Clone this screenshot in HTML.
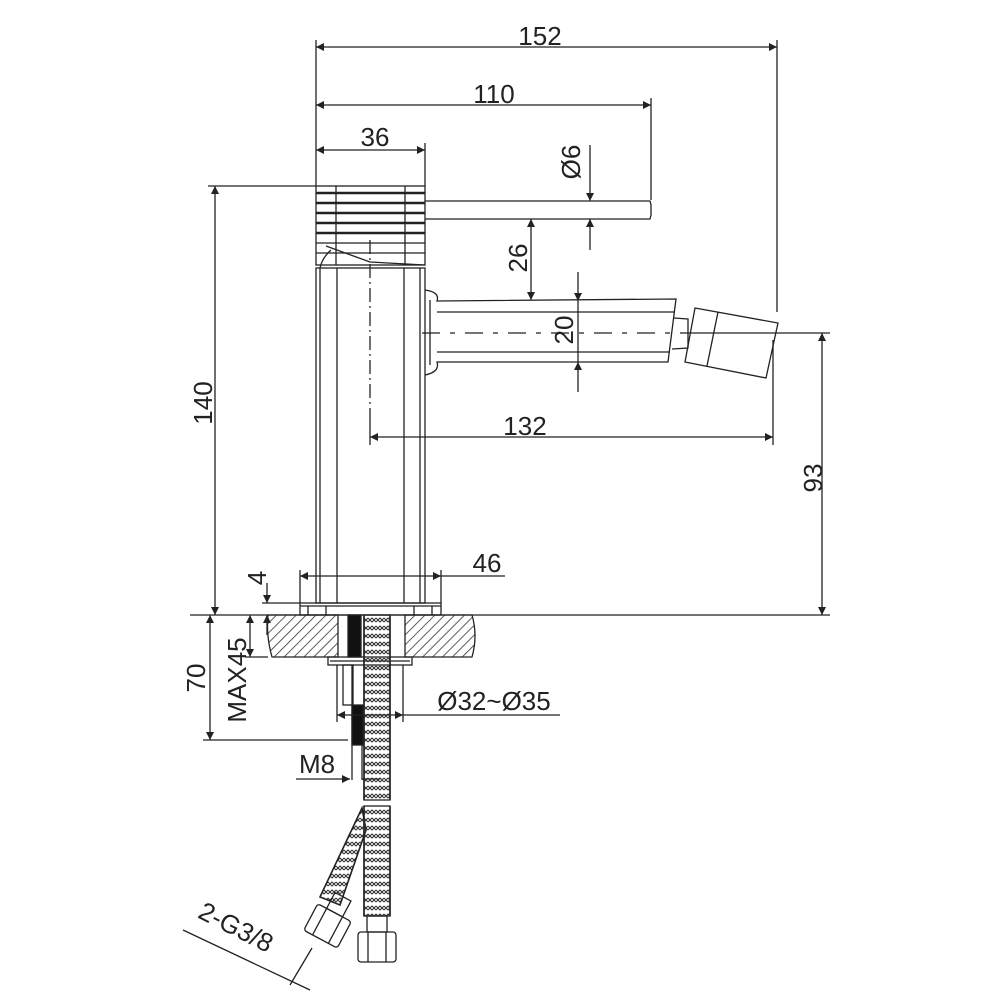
<!DOCTYPE html>
<html><head><meta charset="utf-8"><style>html,body{margin:0;padding:0;background:#fff}svg{display:block}</style></head>
<body>
<svg width="1000" height="1000" viewBox="0 0 1000 1000" xmlns="http://www.w3.org/2000/svg" font-family="Liberation Sans, sans-serif" font-size="26" fill="none" stroke="#222" stroke-width="1.3">
<defs>
<marker id="a" viewBox="0 0 10 10" refX="10" refY="5" markerWidth="14" markerHeight="8" orient="auto-start-reverse" markerUnits="userSpaceOnUse"><path d="M0,0 L10,5 L0,10 z" fill="#222" stroke="none"/></marker>
<pattern id="h" width="7" height="7" patternUnits="userSpaceOnUse" patternTransform="rotate(45)"><line x1="0" y1="0" x2="0" y2="7" stroke="#333" stroke-width="1.6"/></pattern>
<pattern id="br" width="8" height="8" patternUnits="userSpaceOnUse"><path d="M0,2 L4,6 L8,2 M0,6 L4,2 L8,6" stroke="#333" stroke-width="1.1" fill="none"/></pattern>
</defs>
<line x1="316" y1="40" x2="316" y2="186"/>
<line x1="777" y1="40" x2="777" y2="312"/>
<line x1="651" y1="98" x2="651" y2="200"/>
<line x1="425" y1="143" x2="425" y2="186"/>
<line x1="316" y1="47" x2="777" y2="47" marker-start="url(#a)" marker-end="url(#a)"/>
<line x1="316" y1="105" x2="651" y2="105" marker-start="url(#a)" marker-end="url(#a)"/>
<line x1="316" y1="150" x2="425" y2="150" marker-start="url(#a)" marker-end="url(#a)"/>
<g fill="#222" stroke="none" text-anchor="middle">
<text x="540" y="45">152</text>
<text x="494" y="103">110</text>
<text x="375" y="146">36</text>
<text x="525" y="435">132</text>
<text x="487" y="572">46</text>
<text transform="translate(212,403) rotate(-90)">140</text>
<text transform="translate(822,478) rotate(-90)">93</text>
<text transform="translate(580,162) rotate(-90)">Ø6</text>
<text transform="translate(527,258) rotate(-90)">26</text>
<text transform="translate(573,330) rotate(-90)">20</text>
<text transform="translate(246,680) rotate(-90)">MAX45</text>
<text transform="translate(205,678) rotate(-90)">70</text>
<text transform="translate(266,578) rotate(-90)">4</text>
<text x="494" y="710">Ø32~Ø35</text>
<text x="317" y="773">M8</text>
<text transform="translate(232,935) rotate(27)">2-G3/8</text>
</g>
<line x1="208" y1="186" x2="316" y2="186"/>
<line x1="215" y1="186" x2="215" y2="615" marker-start="url(#a)" marker-end="url(#a)"/>
<rect x="316" y="186" width="109" height="79"/>
<g stroke-width="2.4">
<line x1="316" y1="193" x2="425" y2="193"/><line x1="316" y1="203" x2="425" y2="203"/><line x1="316" y1="213" x2="425" y2="213"/><line x1="316" y1="223" x2="425" y2="223"/><line x1="316" y1="233" x2="425" y2="233"/>
</g>
<line x1="316" y1="243" x2="425" y2="243"/><line x1="316" y1="253" x2="425" y2="253"/>
<line x1="336" y1="186" x2="336" y2="265"/><line x1="405" y1="186" x2="405" y2="265"/>
<path d="M326,246 L370,262 L425,265"/>
<path d="M331,250 Q322,258 320,268"/>
<path d="M425,201 L650,201 L651,205 L651,215 L650,219 L425,219"/>
<line x1="590" y1="145" x2="590" y2="201" marker-end="url(#a)"/>
<line x1="590" y1="250" x2="590" y2="219" marker-end="url(#a)"/>
<line x1="531" y1="219" x2="531" y2="300" marker-start="url(#a)" marker-end="url(#a)"/>
<line x1="578" y1="272" x2="578" y2="301" marker-end="url(#a)"/>
<line x1="578" y1="392" x2="578" y2="362" marker-end="url(#a)"/>
<line x1="578" y1="301" x2="578" y2="362"/>
<rect x="316" y="268" width="109" height="335"/>
<line x1="320" y1="268" x2="320" y2="603"/><line x1="337" y1="268" x2="337" y2="603"/>
<line x1="404" y1="268" x2="404" y2="603"/><line x1="420" y1="268" x2="420" y2="603"/>
<line x1="370" y1="240" x2="370" y2="410" stroke-dasharray="14,4,2,4"/>
<line x1="370" y1="410" x2="370" y2="445"/>
<line x1="773" y1="340" x2="773" y2="445"/>
<line x1="370" y1="437" x2="773" y2="437" marker-start="url(#a)" marker-end="url(#a)"/>
<path d="M425,290 Q440,292 437,301 L676,299 L668,362 L437,362 Q440,372 425,375"/>
<line x1="437" y1="312" x2="674" y2="312"/><line x1="437" y1="352" x2="670" y2="352"/>
<path d="M430,300 Q430,333 430,365"/>
<line x1="422" y1="333" x2="690" y2="333" stroke-dasharray="18,10,5,10"/>
<path d="M674,318 L688,319 L688,348 L672,349"/>
<path d="M695,308 L778,323 L766,378 L685,362 Z"/>
<line x1="718" y1="312" x2="707" y2="366"/>
<line x1="690" y1="333" x2="830" y2="333"/>
<line x1="822" y1="333" x2="822" y2="615" marker-start="url(#a)" marker-end="url(#a)"/>
<line x1="300" y1="570" x2="300" y2="603"/><line x1="441" y1="570" x2="441" y2="603"/>
<line x1="300" y1="576" x2="441" y2="576" marker-start="url(#a)" marker-end="url(#a)"/>
<line x1="441" y1="576" x2="505" y2="576"/>
<rect x="300" y="603" width="141" height="12"/>
<line x1="308" y1="606" x2="308" y2="615"/><line x1="326" y1="606" x2="326" y2="615"/><line x1="414" y1="606" x2="414" y2="615"/><line x1="432" y1="606" x2="432" y2="615"/>
<line x1="300" y1="606" x2="441" y2="606"/>
<line x1="190" y1="615" x2="830" y2="615"/>
<line x1="262" y1="603" x2="300" y2="603"/>
<line x1="267" y1="583" x2="267" y2="603" marker-end="url(#a)"/>
<line x1="267" y1="635" x2="267" y2="615" marker-end="url(#a)"/>
<path d="M268,615 L338,615 L338,657 L272,657 Q266,636 268,615 Z" fill="url(#h)"/>
<path d="M405,615 L472,615 Q478,636 472,657 L405,657 Z" fill="url(#h)"/>
<line x1="245" y1="657" x2="268" y2="657"/>
<rect x="328" y="657" width="84" height="8"/>
<line x1="330" y1="661" x2="410" y2="661"/>
<rect x="348" y="615" width="13" height="42" fill="#111"/>
<rect x="343" y="665" width="10" height="40"/>
<rect x="352" y="705" width="11" height="40" fill="#111"/>
<line x1="352" y1="665" x2="352" y2="780"/><line x1="362" y1="745" x2="362" y2="780"/>
<rect x="364" y="615" width="26" height="185" fill="url(#br)"/>
<rect x="364" y="806" width="26" height="110" fill="url(#br)"/>
<path d="M364,616 v184 M390,616 v184 M364,806 v110 M390,806 v110" stroke-width="1.6"/>
<path d="M362,808 L366,830 L340,905 L320,897 Z" fill="url(#br)" stroke-width="1.6"/>
<rect x="367" y="916" width="20" height="16"/>
<rect x="358" y="932" width="38" height="30" rx="3"/>
<line x1="368" y1="932" x2="368" y2="962"/><line x1="386" y1="932" x2="386" y2="962"/>
<g transform="rotate(28 328 925)">
<rect x="319" y="893" width="18" height="18"/>
<rect x="309" y="911" width="38" height="30" rx="3"/>
<line x1="319" y1="911" x2="319" y2="941"/><line x1="337" y1="911" x2="337" y2="941"/>
</g>
<line x1="183" y1="930" x2="310" y2="990"/>
<line x1="312" y1="948" x2="290" y2="985"/>
<line x1="210" y1="615" x2="210" y2="740" marker-start="url(#a)" marker-end="url(#a)"/>
<line x1="250" y1="615" x2="250" y2="657" marker-start="url(#a)" marker-end="url(#a)"/>
<line x1="203" y1="740" x2="348" y2="740"/>
<line x1="337" y1="665" x2="337" y2="722"/><line x1="403" y1="665" x2="403" y2="722"/>
<line x1="337" y1="715" x2="403" y2="715" marker-start="url(#a)" marker-end="url(#a)"/>
<line x1="403" y1="715" x2="560" y2="715"/>
<line x1="296" y1="779" x2="350" y2="779" marker-end="url(#a)"/>
<line x1="362" y1="779" x2="380" y2="779"/>
</svg>
</body></html>
